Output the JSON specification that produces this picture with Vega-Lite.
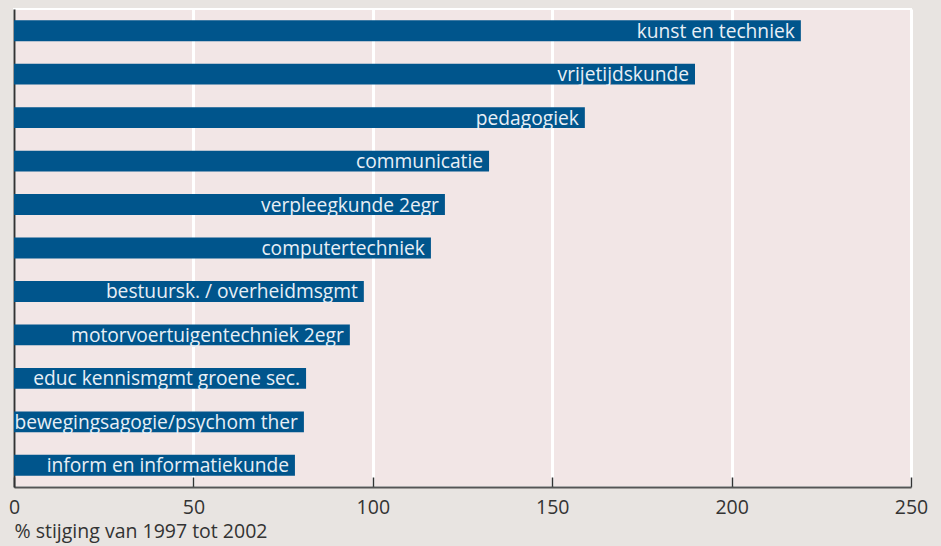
{
  "$schema": "https://vega.github.io/schema/vega-lite/v6.json",
  "width": 897,
  "height": 478,
  "autosize": {"type": "none"},
  "padding": {"left": 14, "top": 9, "right": 30, "bottom": 59},
  "background": "#e8e4e1",
  "data": {"values": [
    {"opleiding": "kunst en techniek", "pct": 219.3},
    {"opleiding": "vrijetijdskunde", "pct": 189.8},
    {"opleiding": "pedagogiek", "pct": 159.1},
    {"opleiding": "communicatie", "pct": 132.4},
    {"opleiding": "verpleegkunde 2egr", "pct": 120.1},
    {"opleiding": "computertechniek", "pct": 116.2},
    {"opleiding": "bestuursk. / overheidmsgmt", "pct": 97.5},
    {"opleiding": "motorvoertuigentechniek 2egr", "pct": 93.6},
    {"opleiding": "educ kennismgmt groene sec.", "pct": 81.4},
    {"opleiding": "bewegingsagogie/psychom ther", "pct": 80.8},
    {"opleiding": "inform en informatiekunde", "pct": 78.3}
  ]},
  "config": {
    "view": {"fill": "#f2e6e6", "stroke": "#ffffff", "strokeWidth": 2},
    "font": "Open Sans"
  },
  "encoding": {
    "y": {
      "field": "opleiding", "type": "nominal", "sort": {"field": "pct", "order": "descending"},
      "scale": {"paddingInner": 0.52, "paddingOuter": 0.26},
      "axis": {"title": null, "labels": false, "ticks": false, "grid": false, "domainColor": "#333333", "domainWidth": 2}
    },
    "x": {
      "field": "pct", "type": "quantitative",
      "scale": {"domain": [0, 250], "nice": false},
      "axis": {
        "values": [0, 50, 100, 150, 200, 250],
        "title": "% stijging van 1997 tot 2002",
        "titleFontSize": 19.5, "titleFontWeight": "normal", "titleColor": "#333333",
        "titleAnchor": "start", "titleAlign": "left", "titlePadding": 6,
        "labelFontSize": 19.5, "labelColor": "#333333", "labelPadding": 21, "labelDx": 6,
        "labelFlush": false,
        "grid": true, "gridColor": "#ffffff", "gridWidth": 3, "gridOpacity": 1,
        "tickSize": -10, "tickColor": "#333333", "tickWidth": 1.5,
        "domainColor": "#555555", "domainWidth": 2
      }
    }
  },
  "layer": [
    {"mark": {"type": "bar", "color": "#00558c"}},
    {
      "mark": {"type": "text", "align": "right", "baseline": "middle", "dx": -6, "dy": 1, "fontSize": 19.2, "color": "#e8eff6"},
      "encoding": {"text": {"field": "opleiding"}}
    }
  ]
}
